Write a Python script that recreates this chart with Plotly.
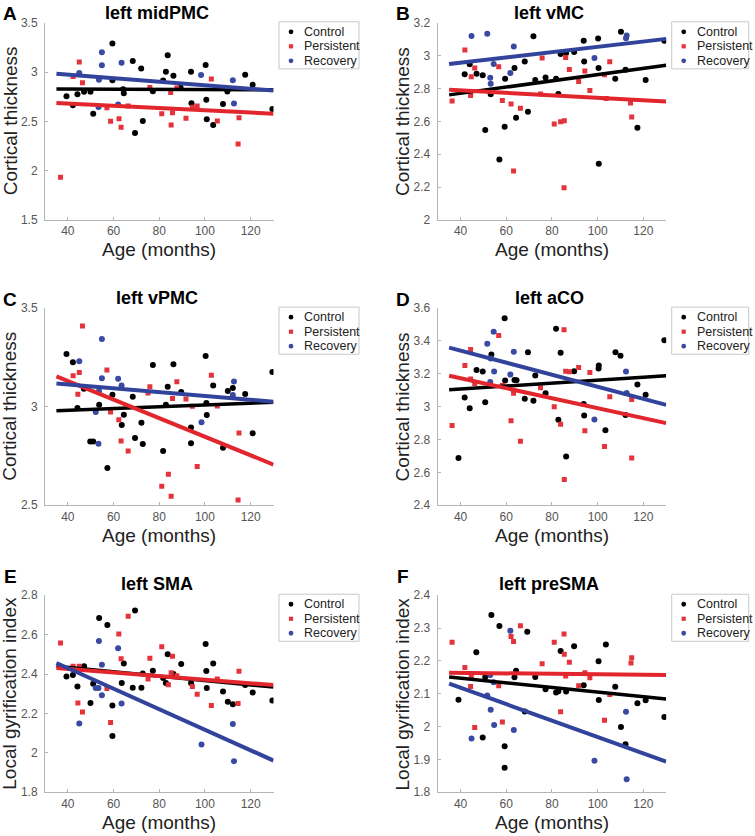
import plotly.graph_objects as go

W, H = 755, 836

# ---- data (age in months, measure value) ----
# A  left midPMC
a_ctrl_age = [39.4, 42.2, 44.2, 47.1, 49.9, 51.1, 59.5, 59.5, 64.2, 64.5, 68.4, 69.4, 72.1, 72.8, 77.2, 81.7,
              82.9, 83.7, 86.2, 89.3, 93.9, 94.1, 100.3, 100.6, 100.8, 103.6, 107.9, 109.8, 117.6, 120.9, 129.5]
a_ctrl_val = [2.755, 2.663, 2.776, 2.80, 2.80, 2.578, 3.29, 2.918, 2.826, 2.786, 3.112, 2.381, 3.037, 2.503, 2.806,
              2.915, 3.003, 3.170, 2.963, 2.844, 3.003, 2.684, 3.071, 2.718, 2.520, 2.463, 2.677, 2.803, 2.973,
              2.871, 2.626]
a_pers_age = [36.8, 42.3, 45.0, 46.4, 57.1, 58.7, 62.4, 63.3, 66.4, 75.9, 81.1, 85.0, 85.2, 85.8, 87.7, 91.7,
              94.5, 96.6, 102.8, 105.4, 114.5, 114.9]
a_pers_val = [1.932, 2.956, 3.102, 2.891, 2.639, 2.500, 2.527, 2.439, 2.656, 2.844, 2.578, 2.793, 2.463, 2.588,
              2.837, 2.531, 2.643, 2.656, 2.929, 2.503, 2.269, 2.537]
a_recv_age = [45.0, 53.4, 53.6, 54.9, 54.9, 62.0, 63.5, 98.3, 112.2, 112.7]
a_recv_val = [2.990, 2.646, 2.922, 3.200, 3.068, 2.670, 3.095, 2.969, 2.918, 2.680]
a_fit_ctrl = [2.827, 2.820]
a_fit_pers = [2.687, 2.578]
a_fit_recv = [2.983, 2.813]

# B  left vMC
b_ctrl_age = [41.8, 44.0, 47.0, 49.7, 50.8, 53.2, 57.0, 59.3, 59.5, 63.6, 64.3, 68.1, 69.5, 71.9, 72.7, 77.2,
              81.8, 82.8, 83.8, 86.2, 89.7, 93.9, 94.1, 100.2, 100.4, 100.5, 107.7, 110.2, 112.2, 117.4, 121.0, 129.2]
b_ctrl_val = [2.886, 2.947, 2.890, 2.880, 2.547, 2.765, 2.367, 2.567, 2.859, 2.924, 2.622, 2.965, 2.659, 3.118,
              2.851, 2.867, 2.859, 2.767, 3.010, 3.016, 3.022, 3.090, 2.965, 3.104, 2.924, 2.341, 2.859, 3.145,
              2.914, 2.561, 2.851, 3.090]
b_pers_age = [36.3, 41.9, 44.4, 44.7, 46.2, 56.7, 58.3, 62.1, 63.2, 66.2, 75.0, 75.7, 81.0, 83.8, 85.3, 85.4,
              86.0, 87.6, 91.7, 94.4, 96.6, 103.0, 103.7, 105.3, 114.4, 114.9]
b_pers_val = [2.724, 3.035, 2.757, 2.871, 2.924, 2.933, 2.727, 2.706, 2.298, 2.680, 2.767, 2.986, 2.584, 2.598,
              2.196, 2.604, 2.988, 2.916, 2.843, 2.906, 2.788, 2.884, 2.739, 2.963, 2.712, 2.627]
b_recv_age = [44.8, 51.7, 53.0, 53.2, 54.5, 61.8, 63.3, 98.6, 112.4, 112.7]
b_recv_val = [3.120, 3.133, 2.865, 2.829, 2.949, 2.894, 3.055, 2.986, 3.106, 3.122]
b_fit_ctrl = [2.761, 2.941]
b_fit_pers = [2.792, 2.720]
b_fit_recv = [2.949, 3.102]

# C  left vPMC
c_ctrl_age = [39.4, 42.2, 44.2, 47.0, 49.8, 51.1, 53.7, 57.3, 59.5, 63.6, 64.5, 68.4, 69.4, 72.2, 72.8, 77.2,
              81.7, 82.9, 83.7, 86.2, 89.6, 93.9, 93.9, 100.3, 100.6, 100.8, 103.6, 107.9, 110.0, 112.2, 117.6,
              120.9, 129.5]
c_ctrl_val = [3.267, 3.225, 2.993, 3.091, 2.823, 2.823, 3.010, 2.689, 3.061, 2.907, 2.959, 3.051, 2.841, 2.919,
              2.811, 3.211, 2.775, 3.010, 3.101, 3.215, 3.074, 2.895, 2.814, 3.257, 3.019, 2.958, 3.108, 2.792,
              3.079, 3.095, 3.064, 2.865, 3.176]
c_pers_age = [42.3, 44.4, 45.0, 46.4, 57.1, 58.7, 62.3, 63.3, 66.4, 75.1, 75.9, 81.1, 84.0, 85.2, 85.8, 87.7,
              91.7, 94.5, 96.6, 102.8, 105.4, 114.5, 114.9]
c_pers_val = [3.157, 3.063, 3.174, 3.409, 3.186, 2.973, 2.934, 2.826, 2.775, 3.069, 3.101, 2.596, 2.657, 2.546,
              3.042, 3.127, 3.039, 3.002, 2.696, 3.160, 3.003, 2.527, 2.867]
c_recv_age = [45.0, 52.2, 53.4, 53.6, 54.9, 54.9, 62.0, 63.5, 98.5, 112.2, 112.7]
c_recv_val = [3.230, 2.973, 2.812, 3.078, 3.343, 3.144, 3.142, 3.108, 2.921, 3.059, 3.128]
c_fit_ctrl = [2.980, 3.022]
c_fit_pers = [3.154, 2.706]
c_fit_recv = [3.118, 3.025]

# D  left aCO
d_ctrl_age = [39.1, 41.8, 44.0, 47.0, 49.7, 50.8, 53.5, 59.3, 59.5, 63.6, 64.5, 68.1, 69.5, 71.9, 72.7, 77.2,
              81.8, 82.8, 83.8, 86.2, 89.7, 93.9, 94.1, 100.4, 100.5, 103.4, 107.8, 110.0, 112.2, 117.4, 121.0, 129.2]
d_ctrl_val = [2.688, 3.056, 2.991, 3.224, 3.214, 3.027, 3.318, 3.539, 3.159, 3.163, 3.161, 3.048, 3.332, 3.036,
              3.190, 3.082, 3.474, 2.920, 3.328, 2.696, 3.216, 3.017, 2.946, 3.232, 3.251, 2.857, 3.332, 3.310,
              2.950, 3.135, 3.072, 3.405]
d_pers_age = [36.3, 41.9, 44.4, 44.4, 46.2, 56.7, 58.3, 62.1, 63.2, 66.2, 75.0, 81.0, 83.8, 85.3, 85.4, 86.0,
              87.6, 91.7, 94.4, 96.6, 103.0, 105.3, 114.9, 114.9]
d_pers_val = [2.885, 3.251, 3.348, 3.168, 3.141, 3.434, 3.129, 2.914, 3.082, 2.790, 3.115, 3.000, 2.893, 3.468,
              2.556, 3.216, 3.212, 3.239, 2.853, 3.208, 2.757, 3.060, 2.688, 3.044]
d_recv_age = [51.7, 53.0, 53.2, 54.5, 54.7, 61.8, 63.3, 98.6, 112.4, 112.7]
d_recv_val = [3.383, 3.151, 3.293, 3.456, 3.214, 3.196, 3.334, 2.922, 3.214, 3.084]
d_fit_ctrl = [3.103, 3.188]
d_fit_pers = [3.188, 2.900]
d_fit_recv = [3.360, 3.011]

# E  left SMA
e_ctrl_age = [39.4, 42.2, 44.2, 47.1, 49.9, 51.1, 53.7, 57.3, 59.5, 59.5, 63.6, 64.5, 68.4, 69.4, 72.2, 72.8,
              77.2, 81.7, 82.9, 83.7, 86.2, 89.6, 93.9, 100.3, 100.6, 100.8, 103.6, 107.9, 110.0, 112.2, 117.6,
              120.9, 129.5]
e_ctrl_val = [2.388, 2.395, 2.337, 2.439, 2.253, 2.351, 2.685, 2.649, 2.241, 2.085, 2.354, 2.454, 2.331, 2.722,
              2.331, 2.403, 2.417, 2.380, 2.354, 2.500, 2.400, 2.451, 2.354, 2.553, 2.415, 2.329, 2.453, 2.312,
              2.259, 2.247, 2.344, 2.307, 2.266]
e_pers_age = [36.8, 42.3, 44.4, 45.0, 46.4, 57.1, 58.7, 62.3, 63.3, 66.4, 75.1, 75.9, 81.1, 84.0, 85.2, 85.8,
              87.7, 94.5, 96.6, 102.8, 105.4, 114.5, 114.9]
e_pers_val = [2.558, 2.439, 2.253, 2.439, 2.207, 2.327, 2.154, 2.603, 2.478, 2.693, 2.375, 2.480, 2.539, 2.346,
              2.407, 2.490, 2.392, 2.337, 2.298, 2.241, 2.375, 2.251, 2.414]
e_recv_age = [45.0, 52.2, 53.4, 53.6, 54.9, 54.9, 62.0, 63.5, 98.5, 112.2, 112.7]
e_recv_val = [2.149, 2.329, 2.329, 2.568, 2.447, 2.293, 2.531, 2.251, 2.042, 2.147, 1.958]
e_fit_ctrl = [2.439, 2.334]
e_fit_pers = [2.431, 2.344]
e_fit_recv = [2.456, 1.961]

# F  left preSMA
f_ctrl_age = [39.1, 46.9, 49.7, 50.8, 53.5, 57.0, 59.3, 59.3, 63.6, 64.3, 68.1, 69.2, 72.7, 77.2, 81.8, 82.8,
              83.8, 86.2, 89.7, 93.9, 100.4, 100.5, 103.6, 107.7, 110.2, 112.2, 117.4, 121.0, 129.2]
f_ctrl_val = [2.082, 2.226, 1.967, 2.151, 2.340, 2.306, 1.940, 1.875, 2.150, 2.170, 2.046, 2.289, 2.151, 2.114,
              2.104, 2.108, 2.230, 2.107, 2.245, 2.126, 2.199, 2.081, 2.250, 2.121, 1.999, 1.946, 2.071, 2.080, 2.029]
f_pers_age = [36.3, 41.9, 44.4, 44.7, 46.2, 56.7, 58.3, 62.1, 63.2, 66.2, 75.7, 81.0, 83.8, 85.3, 85.4, 86.0,
              87.6, 91.7, 94.4, 96.6, 103.0, 105.3, 114.6, 114.9]
f_pers_val = [2.257, 2.180, 2.122, 2.154, 1.997, 2.124, 2.014, 2.274, 2.259, 2.307, 2.191, 2.257, 2.045, 2.282,
              2.220, 2.154, 2.196, 2.124, 2.164, 2.149, 2.019, 2.098, 2.194, 2.210]
f_recv_age = [44.8, 51.7, 53.0, 53.2, 54.5, 54.7, 61.8, 63.3, 98.6, 112.4, 112.7]
f_recv_val = [1.964, 2.095, 2.157, 2.051, 2.135, 2.005, 2.292, 1.990, 1.896, 2.045, 1.840]
f_fit_ctrl = [2.151, 2.084]
f_fit_pers = [2.164, 2.157]
f_fit_recv = [2.131, 1.893]

fit_age = [35, 130]
groups = ["Control", "Persistent", "Recovery"]
letters = ["A", "B", "C", "D", "E", "F"]
titles = ["left midPMC", "left vMC", "left vPMC", "left aCO", "left SMA", "left preSMA"]
ylabels = ["Cortical thickness"] * 4 + ["Local gyrification index"] * 2
yranges = [[1.5, 3.5], [2, 3.2], [2.5, 3.5], [2.4, 3.6], [1.8, 2.8], [1.8, 2.4]]
ydticks = [0.5, 0.2, 0.5, 0.2, 0.2, 0.1]
xticks = [40, 60, 80, 100, 120]

panels = [
    ((a_ctrl_age, a_ctrl_val), (a_pers_age, a_pers_val), (a_recv_age, a_recv_val), (a_fit_ctrl, a_fit_pers, a_fit_recv)),
    ((b_ctrl_age, b_ctrl_val), (b_pers_age, b_pers_val), (b_recv_age, b_recv_val), (b_fit_ctrl, b_fit_pers, b_fit_recv)),
    ((c_ctrl_age, c_ctrl_val), (c_pers_age, c_pers_val), (c_recv_age, c_recv_val), (c_fit_ctrl, c_fit_pers, c_fit_recv)),
    ((d_ctrl_age, d_ctrl_val), (d_pers_age, d_pers_val), (d_recv_age, d_recv_val), (d_fit_ctrl, d_fit_pers, d_fit_recv)),
    ((e_ctrl_age, e_ctrl_val), (e_pers_age, e_pers_val), (e_recv_age, e_recv_val), (e_fit_ctrl, e_fit_pers, e_fit_recv)),
    ((f_ctrl_age, f_ctrl_val), (f_pers_age, f_pers_val), (f_recv_age, f_recv_val), (f_fit_ctrl, f_fit_pers, f_fit_recv)),
]

# ---- styling ----
FONT = "Liberation Sans, Arial, Helvetica, sans-serif"
dot_colors = ["#000000", "#e5333b", "#3a4aa3"]
line_colors = ["#000000", "#e2262e", "#32439c"]
symbols = ["circle", "square", "circle"]
sizes = [6, 5, 6]

col_left = [45, 437.7]
plot_w = 228.5
row_top = [23.3, 308.3, 595]
plot_h = 196.8

# the captured picture comes out slightly squeezed vertically about its middle,
# so vertical positions are stretched by the same amount to compensate
VS = 0.982


def fx(p):
    return p / W


def fy(p):
    return 1 - (H / 2 + (p - H / 2) / VS) / H


def label(text, x, y, size, color="#222222", angle=0, xanchor="center"):
    return dict(text=text, x=fx(x), y=fy(y), xref="paper", yref="paper", showarrow=False,
                xanchor=xanchor, yanchor="middle", textangle=angle,
                font=dict(family=FONT, size=size, color=color))


fig = go.Figure()
annotations = []
shapes = []

for i, (ctrl, pers, recv, fits) in enumerate(panels):
    n = i + 1
    col, row = i % 2, i // 2
    x0, y0 = col_left[col], row_top[row]
    xa, ya = ("x", "y") if n == 1 else (f"x{n}", f"y{n}")

    for g, pts in enumerate([ctrl, pers, recv]):
        fig.add_trace(go.Scatter(
            x=pts[0], y=pts[1], mode="markers", name=groups[g], xaxis=xa, yaxis=ya,
            showlegend=False,
            marker=dict(color=dot_colors[g], symbol=symbols[g], size=sizes[g], line=dict(width=0)),
        ))
    for g, fit in enumerate(fits):
        fig.add_trace(go.Scatter(
            x=fit_age, y=fit, mode="lines", xaxis=xa, yaxis=ya, showlegend=False,
            line=dict(color=line_colors[g], width=3.5 if g == 0 else 4),
        ))

    ax = dict(showgrid=False, zeroline=False, showline=True, linecolor="#b5b5b5", linewidth=1,
              ticks="inside", ticklen=3, tickcolor="#b5b5b5",
              tickfont=dict(family=FONT, size=12, color="#555555"))
    fig.layout[f"xaxis{n}" if n > 1 else "xaxis"] = dict(
        ax, domain=[fx(x0), fx(x0 + plot_w)], anchor=ya, range=[30, 130], tickvals=xticks)
    fig.layout[f"yaxis{n}" if n > 1 else "yaxis"] = dict(
        ax, domain=[fy(y0 + plot_h), fy(y0)], anchor=xa, range=yranges[i],
        dtick=ydticks[i], tick0=0, ticklabelstandoff=4)

    # panel letter and title
    annotations.append(label(f"<b>{letters[i]}</b>", x0 - 35, y0 - (9 if row < 2 else 19), 19, "black"))
    annotations.append(label(f"<b>{titles[i]}</b>", x0 + 111.5, y0 - (10 if row < 2 else 11), 18, "black"))
    # axis titles
    annotations.append(label("Age (months)", x0 + plot_w / 2, y0 + plot_h + 30, 19))
    annotations.append(label(ylabels[i], x0 - 35, y0 + plot_h / 2, 19, angle=-90))

    # legend box
    lx, ly = x0 + 234, y0 - 1
    lw = 80 if col == 0 else 77
    shapes.append(dict(type="rect", xref="paper", yref="paper", x0=fx(lx), x1=fx(lx + lw),
                       y0=fy(ly), y1=fy(ly + 47), line=dict(color="#c8c8c8", width=1), fillcolor="white"))
    for g in range(3):
        cy = ly + 10 + 14.5 * g
        r = 2.4 if symbols[g] == "circle" else 2.1
        shapes.append(dict(type="circle" if symbols[g] == "circle" else "rect", xref="paper", yref="paper",
                           x0=fx(lx + 12 - r), x1=fx(lx + 12 + r), y0=fy(cy + r), y1=fy(cy - r),
                           fillcolor=dot_colors[g], line=dict(width=0)))
        annotations.append(label(groups[g], lx + 23, cy, 12.5, xanchor="left"))

fig.update_layout(
    width=W, height=H, margin=dict(l=0, r=0, t=0, b=0),
    plot_bgcolor="white", paper_bgcolor="white",
    annotations=annotations, shapes=shapes, showlegend=False,
)

# pin the plot to the window corner (no page margin, no scrolling)
pin = ("document.body.style.margin = '0'; document.body.style.overflow = 'hidden';"
       "var gd = document.getElementById('{plot_id}');"
       "gd.style.position = 'absolute'; gd.style.top = '0px'; gd.style.left = '0px';")
fig.write_html("out.html", post_script=pin, config={"displayModeBar": False})
